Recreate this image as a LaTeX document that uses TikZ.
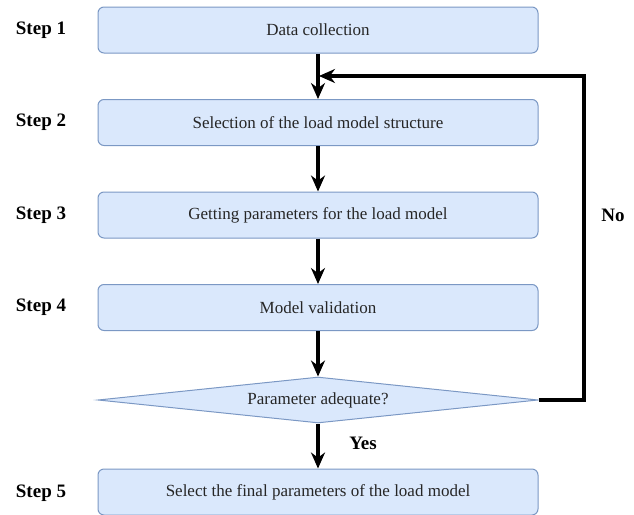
\documentclass[tikz,border=0pt]{standalone}
\usepackage{fontspec}
\setmainfont{Liberation Serif}
\usetikzlibrary{arrows.meta,shapes.geometric}
\definecolor{boxfill}{HTML}{DAE8FC}
\definecolor{boxdraw}{HTML}{7B98C4}
\definecolor{txt}{HTML}{262626}
\begin{document}
\begin{tikzpicture}[x=1pt,y=-1pt,
  stepbox/.style={draw=boxdraw,fill=boxfill,line width=1pt,rounded corners=6pt,
    minimum width=440pt,minimum height=46pt,inner sep=0pt,text=txt,
    font=\fontsize{17}{20}\selectfont},
  decision/.style={draw=boxdraw,fill=boxfill,line width=1pt,shape=diamond,aspect=9.5,
    minimum width=440pt,minimum height=46pt,inner sep=0pt,text=txt,
    font=\fontsize{17}{20}\selectfont},
  steplabel/.style={font=\bfseries\fontsize{19}{22}\selectfont,text=black,inner sep=0pt},
  flow/.style={line width=3.5pt,-{Stealth[length=16pt,width=14pt]}},
]
\useasboundingbox (0,0) rectangle (634,514);
\node[stepbox] (b1) at (318,30) {Data collection};
\node[stepbox] (b2) at (318,122.5) {Selection of the load model structure};
\node[stepbox] (b3) at (318,215) {Getting parameters for the load model};
\node[stepbox] (b4) at (318,307.5) {Model validation};
\node[decision] (d) at (318,400) {Parameter adequate?};
\node[stepbox] (b5) at (318,492) {Select the final parameters of the load model};

\node[steplabel] (s1) at (41,30) {Step 1};
\node[steplabel] (s2) at (41,122.5) {Step 2};
\node[steplabel] (s3) at (41,215) {Step 3};
\node[steplabel] (s4) at (41,307.5) {Step 4};
\node[steplabel] (s5) at (41,493) {Step 5};

\draw[flow] (b1.south) -- (b2.north);
\draw[flow] (b2.south) -- (b3.north);
\draw[flow] (b3.south) -- (b4.north);
\draw[flow] (b4.south) -- (d.north);
\draw[flow] (d.south) -- (b5.north);

\coordinate (join) at (319,76);
\draw[flow] (d.east) -- (584,400) -- (584,76) -- (join);

\node[steplabel] (no) at (613,215) {No};
\node[steplabel] (yes) at (363,443) {Yes};
\end{tikzpicture}
\end{document}
